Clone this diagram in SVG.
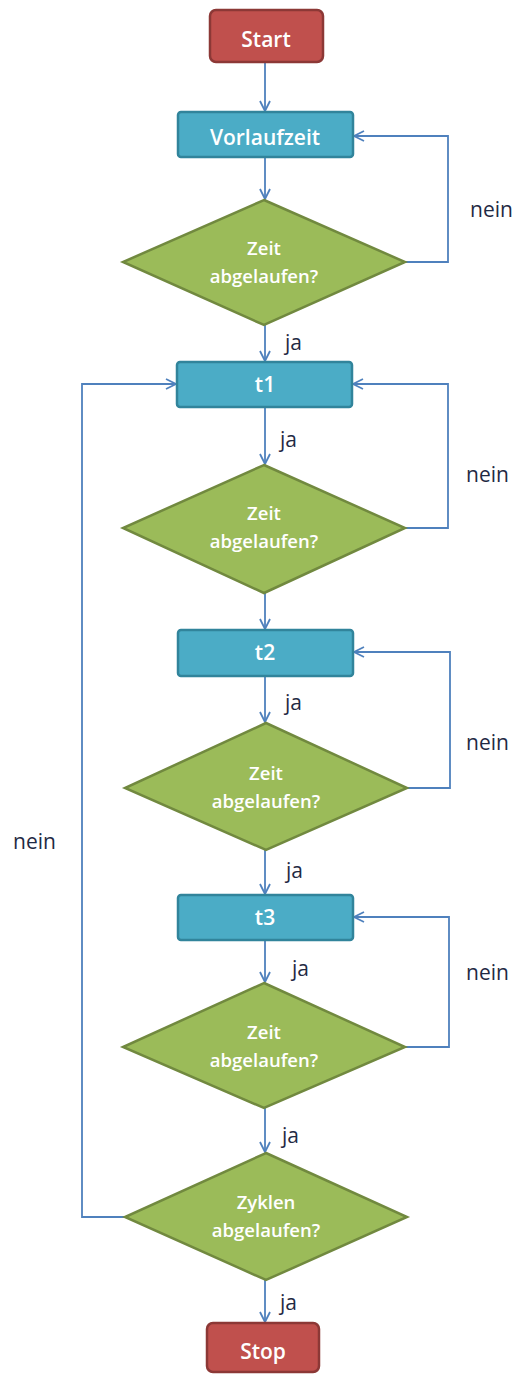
<svg xmlns="http://www.w3.org/2000/svg" width="516" height="1374" viewBox="0 0 516 1374">
<style>
.term{fill:#C0504D;stroke:#8C3836;stroke-width:2.5}
.proc{fill:#4BACC6;stroke:#31849B;stroke-width:2.5}
.dec{fill:#9BBB59;stroke:#71893F;stroke-width:2.5;stroke-linejoin:miter}
.nt{font-family:"Open Sans","Liberation Sans",sans-serif;font-weight:600;fill:#FFFFFF;text-anchor:middle}
.big{font-size:21px}
.small{font-size:18.5px}
.lbl{font-family:"Open Sans","Liberation Sans",sans-serif;font-size:21px;fill:#1F2A44}
.conn{fill:none;stroke:#4F81BD;stroke-width:1.8}
</style>
<defs>
<marker id="arr" viewBox="0 0 12 12" refX="11" refY="6" markerWidth="12" markerHeight="12" markerUnits="userSpaceOnUse" orient="auto">
<path d="M1,1 L11,6 L1,11" fill="none" stroke="#4F81BD" stroke-width="1.8"/>
</marker>
</defs>
<rect width="516" height="1374" fill="#FFFFFF"/>
<g id="connectors">
<path class="conn" marker-end="url(#arr)" d="M265,62 V111"/>
<path class="conn" marker-end="url(#arr)" d="M265,157 V199"/>
<path class="conn" marker-end="url(#arr)" d="M405,262 H448 V136 H354"/>
<path class="conn" marker-end="url(#arr)" d="M265,325 V361"/>
<path class="conn" marker-end="url(#arr)" d="M265,407 V464"/>
<path class="conn" marker-end="url(#arr)" d="M405,528 H448 V384 H353"/>
<path class="conn" marker-end="url(#arr)" d="M265,593 V629"/>
<path class="conn" marker-end="url(#arr)" d="M407,788 H450 V652 H354"/>
<path class="conn" marker-end="url(#arr)" d="M265,676 V722"/>
<path class="conn" marker-end="url(#arr)" d="M265,850 V894"/>
<path class="conn" marker-end="url(#arr)" d="M265,940 V982"/>
<path class="conn" marker-end="url(#arr)" d="M405,1047 H449 V917 H354"/>
<path class="conn" marker-end="url(#arr)" d="M265,1108 V1152"/>
<path class="conn" marker-end="url(#arr)" d="M265,1280 V1322"/>
<path class="conn" marker-end="url(#arr)" d="M125,1217 H82 V384 H176"/>
<text class="lbl" x="470" y="217">nein</text>
<text class="lbl" x="285" y="350">ja</text>
<text class="lbl" x="280" y="447">ja</text>
<text class="lbl" x="466" y="482">nein</text>
<text class="lbl" x="285" y="710">ja</text>
<text class="lbl" x="466" y="750">nein</text>
<text class="lbl" x="13" y="849">nein</text>
<text class="lbl" x="286" y="878">ja</text>
<text class="lbl" x="292" y="976">ja</text>
<text class="lbl" x="466" y="980">nein</text>
<text class="lbl" x="282" y="1143">ja</text>
<text class="lbl" x="280" y="1310">ja</text>
</g>
<g id="start">
<rect class="term" x="210" y="10" width="113" height="52" rx="6"/>
<text class="nt big" x="266" y="47">Start</text>
</g>
<g id="vorlaufzeit">
<rect class="proc" x="178" y="112" width="175" height="45" rx="3"/>
<text class="nt big" x="265" y="145">Vorlaufzeit</text>
</g>
<g id="d1">
<polygon class="dec" points="264,200 405,262 264,325 123,262"/>
<text class="nt small" x="264" y="255">Zeit</text>
<text class="nt small" x="264" y="283">abgelaufen?</text>
</g>
<g id="t1">
<rect class="proc" x="177" y="362" width="175" height="45" rx="3"/>
<text class="nt big" x="265" y="392">t1</text>
</g>
<g id="d2">
<polygon class="dec" points="264,465 405,528 264,593 123,528"/>
<text class="nt small" x="264" y="520">Zeit</text>
<text class="nt small" x="264" y="548">abgelaufen?</text>
</g>
<g id="t2">
<rect class="proc" x="178" y="630" width="175" height="46" rx="3"/>
<text class="nt big" x="265" y="660">t2</text>
</g>
<g id="d3">
<polygon class="dec" points="266,723 407,788 266,850 125,788"/>
<text class="nt small" x="266" y="780">Zeit</text>
<text class="nt small" x="266" y="808">abgelaufen?</text>
</g>
<g id="t3">
<rect class="proc" x="178" y="895" width="175" height="45" rx="3"/>
<text class="nt big" x="265" y="925">t3</text>
</g>
<g id="d4">
<polygon class="dec" points="264,983 405,1047 264,1108 123,1047"/>
<text class="nt small" x="264" y="1039">Zeit</text>
<text class="nt small" x="264" y="1067">abgelaufen?</text>
</g>
<g id="d5">
<polygon class="dec" points="266,1153 407,1217 266,1280 125,1217"/>
<text class="nt small" x="266" y="1209">Zyklen</text>
<text class="nt small" x="266" y="1237">abgelaufen?</text>
</g>
<g id="stop">
<rect class="term" x="207" y="1323" width="112" height="49" rx="6"/>
<text class="nt big" x="263" y="1359">Stop</text>
</g>
</svg>
